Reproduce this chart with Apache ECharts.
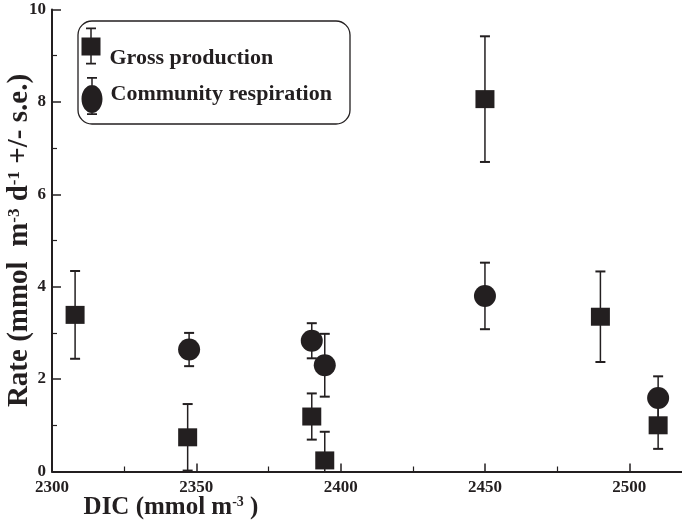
<!DOCTYPE html>
<html><head><meta charset="utf-8">
<script src="https://cdn.jsdelivr.net/npm/echarts@6/dist/echarts.min.js"></script>
<style>html,body{margin:0;padding:0;background:#fff}#c{width:682px;height:524px}</style>
</head><body><div id="c"></div>
<script>
// ---- data ----
const seriesNames = ['Gross production', 'Community respiration'];
const grossDIC  = [2308, 2347, 2390, 2394.5, 2450, 2490, 2510];
const grossRate = [3.39, 0.74, 1.19, 0.24, 8.06, 3.35, 1.00];
const grossSE   = [0.95, 0.72, 0.50, 0.62, 1.36, 0.98, 0.51];
const respDIC   = [2347.5, 2390, 2394.5, 2450, 2510];
const respRate  = [2.64, 2.83, 2.30, 3.80, 1.59];
const respSE    = [0.36, 0.38, 0.68, 0.72, 0.47];
const xTickLabels = ['2300', '2350', '2400', '2450', '2500'];
const yTickLabels = ['0', '2', '4', '6', '8', '10'];

const C = '#231f20';
const FF = '"Liberation Serif", "Times New Roman", serif';

const squareIcon = 'path://M8.75 0 H10.25 V37 H8.75 Z M4.5 0 H14.5 V1.8 H4.5 Z M4.5 35.2 H14.5 V37 H4.5 Z M0 10 H19 V28 H0 Z';
const ellipseIcon = 'path://M9.75 0 H11.25 V38 H9.75 Z M5.5 0 H15.5 V1.8 H5.5 Z M5.5 36.2 H15.5 V38 H5.5 Z M0 22 C0 14.27 4.7 8 10.5 8 C16.3 8 21 14.27 21 22 C21 29.73 16.3 36 10.5 36 C4.7 36 0 29.73 0 22 Z';

function errorBars(name, xs, ys, es) {
  return {
    type: 'custom', name: name, silent: true, z: 1,
    data: xs.map((x, i) => [x, ys[i], es[i]]),
    renderItem: function (params, api) {
      const x = api.value(0), y = api.value(1), e = api.value(2);
      const lo = Math.max(0, y - e), hi = y + e;
      const pHi = api.coord([x, hi]), pLo = api.coord([x, lo]);
      const cw = 5;
      const ch = [
        {type: 'line', shape: {x1: pHi[0], y1: pHi[1], x2: pLo[0], y2: pLo[1]}, style: {stroke: C, lineWidth: 1.5}},
        {type: 'line', shape: {x1: pHi[0] - cw, y1: pHi[1], x2: pHi[0] + cw, y2: pHi[1]}, style: {stroke: C, lineWidth: 2}}
      ];
      if (y - e > 0) ch.push({type: 'line', shape: {x1: pLo[0] - cw, y1: pLo[1], x2: pLo[0] + cw, y2: pLo[1]}, style: {stroke: C, lineWidth: 2}});
      return {type: 'group', children: ch};
    }
  };
}

const legendText = {fontFamily: FF, fontWeight: 'bold', fontSize: 22, color: C};

const chart = echarts.init(document.getElementById('c'), null, {renderer: 'canvas'});
chart.setOption({
  backgroundColor: '#fff',
  animation: false,
  grid: {left: 52, top: 9.5, width: 635, height: 462, outerBoundsMode: 'none', containLabel: false},
  graphic: [{
    type: 'rect', silent: true, z: 0,
    shape: {x: 78, y: 21, width: 272, height: 103, r: 14},
    style: {fill: 'none', stroke: C, lineWidth: 1.3}
  }],
  legend: [{
    orient: 'vertical', left: 81.5, top: 27.5, padding: 0,
    itemWidth: 21, itemHeight: 37, selectedMode: false,
    textStyle: legendText,
    formatter: '{a|{name}}',
    data: [{name: seriesNames[0], icon: squareIcon,
            textStyle: {rich: {a: Object.assign({padding: [24, 0, 0, 3]}, legendText)}}}]
  }, {
    orient: 'vertical', left: 81.5, top: 77, padding: 0,
    itemWidth: 21, itemHeight: 38, selectedMode: false,
    textStyle: legendText,
    formatter: '{a|{name}}',
    data: [{name: seriesNames[1], icon: ellipseIcon,
            textStyle: {rich: {a: Object.assign({padding: [0, 0, 4, 3]}, legendText)}}}]
  }],
  xAxis: {
    type: 'value', min: 2300, max: 2520, interval: 50,
    name: '{n|DIC (mmol m}{s|-3}{n| )}',
    nameLocation: 'middle', nameGap: 22, nameMoveOverlap: false,
    nameTextStyle: {
      padding: [0, 397, 0, 0],
      rich: {
        n: {fontFamily: FF, fontWeight: 'bold', fontSize: 25, color: C, lineHeight: 28},
        s: {fontFamily: FF, fontWeight: 'bold', fontSize: 14, color: C, verticalAlign: 'top', padding: [2, 0, 0, 0]}
      }
    },
    axisLine: {lineStyle: {color: C, width: 2}},
    axisTick: {inside: true, length: 8, lineStyle: {color: C, width: 1.5}},
    minorTick: {show: true, splitNumber: 2, length: 5, lineStyle: {color: C, width: 1.2}},
    splitLine: {show: false},
    axisLabel: {
      margin: 8, color: C, fontFamily: FF, fontWeight: 'bold', fontSize: 17,
      showMaxLabel: false,
      formatter: v => ((v - 2300) % 50 === 0 ? (xTickLabels[(v - 2300) / 50] ?? '') : '')
    }
  },
  yAxis: {
    type: 'value', min: 0, max: 10, interval: 2,
    name: '{n|Rate (mmol  m}{s|-3}{n| d}{s|-1}{n| +/- s.e.)}',
    nameLocation: 'middle', nameGap: 16, nameRotate: 90, nameMoveOverlap: false,
    nameTextStyle: {
      rich: {
        n: {fontFamily: FF, fontWeight: 'bold', fontSize: 29, color: C, lineHeight: 32},
        s: {fontFamily: FF, fontWeight: 'bold', fontSize: 17, color: C, verticalAlign: 'top', padding: [2, 0, 0, 0]}
      }
    },
    axisLine: {lineStyle: {color: C, width: 2}},
    axisTick: {inside: true, length: 9, lineStyle: {color: C, width: 1.5}},
    minorTick: {show: true, splitNumber: 2, length: 5, lineStyle: {color: C, width: 1.2}},
    splitLine: {show: false},
    axisLabel: {
      margin: 6, color: C, fontFamily: FF, fontWeight: 'bold', fontSize: 17,
      formatter: v => (v % 2 === 0 ? (yTickLabels[v / 2] ?? '') : '')
    }
  },
  series: [
    {type: 'scatter', name: seriesNames[0], symbol: 'rect', symbolSize: [19, 18], z: 3,
     itemStyle: {color: C, opacity: 1}, data: grossDIC.map((x, i) => [x, grossRate[i]])},
    {type: 'scatter', name: seriesNames[1], symbol: 'circle', symbolSize: 22, z: 3,
     itemStyle: {color: C, opacity: 1}, data: respDIC.map((x, i) => [x, respRate[i]])},
    errorBars(seriesNames[0], grossDIC, grossRate, grossSE),
    errorBars(seriesNames[1], respDIC, respRate, respSE)
  ]
});
</script></body></html>
